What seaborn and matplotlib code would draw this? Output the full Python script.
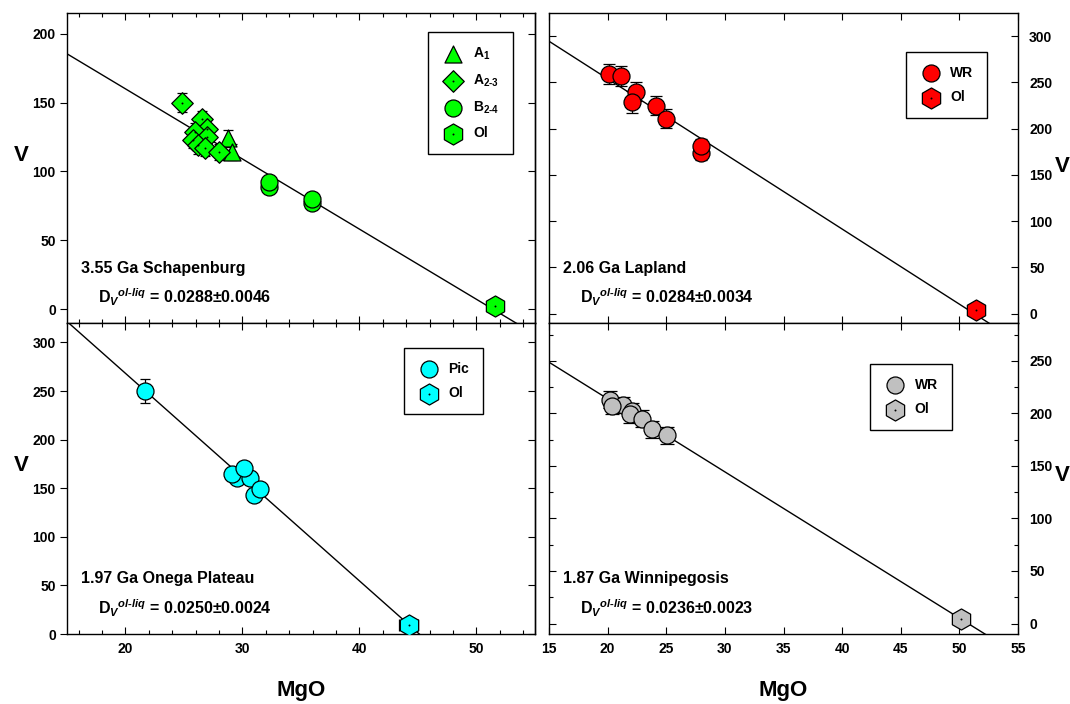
import numpy as np
import pandas as pd
import matplotlib
matplotlib.use("Agg")
import matplotlib.pyplot as plt
import seaborn as sns
from matplotlib.ticker import MultipleLocator

# 3.55 Ga Schapenburg
sch_a1_mgo = [28.8, 29.1]
sch_a1_v = [124, 114]
sch_a1_err = [6, 6]
sch_a23_mgo = [24.8, 26.5, 27.0, 25.9, 25.8, 27.0, 26.2, 26.8, 28.0]
sch_a23_v = [150, 138, 131, 129, 123, 125, 119, 117, 114]
sch_a23_err = [7, 6, 6, 6, 6, 6, 6, 6, 6]
sch_b24_mgo = [32.3, 32.3, 35.9, 35.9]
sch_b24_v = [89, 92, 77, 80]
sch_b24_err = [3, 3, 3, 3]
sch_ol_mgo = [51.6]
sch_ol_v = [2.6]
sch_ol_err = [1]

# 2.06 Ga Lapland
lap_wr_mgo = [20.1, 21.1, 22.4, 22.1, 24.1, 25.0, 28.0, 28.0]
lap_wr_v = [259, 257, 240, 229, 225, 211, 174, 181]
lap_wr_err = [11, 11, 10, 12, 10, 10, 8, 8]
lap_ol_mgo = [51.4]
lap_ol_v = [4.3]
lap_ol_err = [1]

# 1.97 Ga Onega Plateau
one_pic_mgo = [21.7, 29.5, 29.1, 30.6, 30.1, 31.0, 31.5]
one_pic_v = [250, 161, 165, 161, 171, 143, 149]
one_pic_err = [12, 4, 4, 4, 4, 4, 4]
one_ol_mgo = [44.2]
one_ol_v = [9]
one_ol_err = [1]

# 1.87 Ga Winnipegosis
win_wr_mgo = [20.2, 21.3, 20.4, 22.1, 21.9, 22.9, 23.8, 25.1]
win_wr_v = [213, 208, 207, 202, 199, 195, 185, 179]
win_wr_err = [8, 8, 8, 8, 8, 8, 8, 8]
win_ol_mgo = [50.1]
win_ol_v = [4.4]
win_ol_err = [3]

sns.set_style("ticks")
plt.rcParams['font.family'] = ['Liberation Sans', 'DejaVu Sans']
plt.rcParams['font.weight'] = 'bold'
plt.rcParams['axes.labelweight'] = 'bold'
plt.rcParams['text.color'] = 'black'
plt.rcParams['axes.labelcolor'] = 'black'
plt.rcParams['xtick.color'] = 'black'
plt.rcParams['ytick.color'] = 'black'
plt.rcParams['mathtext.fontset'] = 'custom'
plt.rcParams['mathtext.rm'] = 'Liberation Sans:bold'
plt.rcParams['mathtext.it'] = 'Liberation Sans:italic:bold'
plt.rcParams['mathtext.bf'] = 'Liberation Sans:bold'

fig = plt.figure(figsize=(10.7, 7.04), dpi=100)
ax_tl = fig.add_axes([0.0626, 0.5412, 0.4374, 0.4403])
ax_tr = fig.add_axes([0.5131, 0.5412, 0.4383, 0.4403])
ax_bl = fig.add_axes([0.0626, 0.0994, 0.4374, 0.4418])
ax_br = fig.add_axes([0.5131, 0.0994, 0.4383, 0.4418])

SIZES = {'^': 150, 'D': 120, 'o': 150, 'h': 230}


def draw_panel(ax, groups, color, capsize):
    handles, labels = [], []
    all_x, all_y = [], []
    for label, mgo, v, err, marker, dot in groups:
        ax.errorbar(mgo, v, yerr=err, fmt='none', ecolor='black', elinewidth=0.9,
                    capsize=capsize, capthick=0.9, zorder=2)
        sns.scatterplot(x=mgo, y=v, marker=marker, s=SIZES[marker], color=color,
                        edgecolor='black', linewidth=0.9, zorder=3, ax=ax)
        h = ax.collections[-1]
        if dot:
            sns.scatterplot(x=mgo, y=v, marker='o', s=2, color='black',
                            linewidth=0, zorder=4, ax=ax)
            h = (h, ax.collections[-1])
        handles.append(h)
        labels.append(label)
        all_x += list(mgo)
        all_y += list(v)
    df = pd.DataFrame({'MgO': all_x, 'V': all_y})
    ax.set_xlim(15, 55)
    sns.regplot(data=df, x='MgO', y='V', scatter=False, ci=None, truncate=False,
                color='black', line_kws={'linewidth': 1.0, 'zorder': 1}, ax=ax)
    return handles, labels


def add_legend(ax, handles, labels, anchor):
    leg = ax.legend(handles, labels, loc='upper right', bbox_to_anchor=anchor,
                    frameon=True, fancybox=False, framealpha=1, edgecolor='black',
                    fontsize=10, handletextpad=0.6, labelspacing=0.75,
                    borderpad=1.0, borderaxespad=0, handlelength=1.6,
                    scatterpoints=1)
    leg.get_frame().set_linewidth(1.0)


def add_texts(ax, name, dval):
    ax.text(0.030, 0.177, name, transform=ax.transAxes, fontsize=11.5,
            fontweight='bold', ha='left', va='center')
    ax.text(0.066, 0.084, r"D$_{V}$$^{ol\text{-}liq}$ = " + dval, transform=ax.transAxes,
            fontsize=11.5, fontweight='bold', ha='left', va='center')


def style_axes(ax, bottom_labels, right_side):
    for sp in ax.spines.values():
        sp.set_visible(True)
        sp.set_linewidth(1.0)
        sp.set_color('black')
    ax.tick_params(axis='x', which='both', direction='in', top=True, bottom=True,
                   labelbottom=bottom_labels, labelsize=10, pad=6, width=0.8)
    ax.tick_params(axis='x', which='major', length=5)
    ax.tick_params(axis='x', which='minor', length=3)
    ax.set_xlabel('MgO' if bottom_labels else '', fontsize=16, fontweight='bold',
                  va='center')
    ax.xaxis.set_label_coords(0.5, -0.18)
    ax.set_ylabel('V', fontsize=16, fontweight='bold', rotation=0, va='center', ha='center')
    if right_side:
        ax.yaxis.set_label_position('right')
        ax.tick_params(axis='y', which='both', direction='in', left=True, right=True,
                       labelleft=False, labelright=True, labelsize=10, pad=8, width=0.8)
        ax.tick_params(axis='y', which='major', length=5)
        ax.tick_params(axis='y', which='minor', length=3)
    else:
        ax.tick_params(axis='y', which='both', direction='out', left=True, right=False,
                       labelsize=10, pad=3, width=0.8, length=5)
        sec = ax.secondary_yaxis('right')
        sec.set_yticks(ax.get_yticks())
        sec.tick_params(direction='in', labelright=False, length=5, width=0.8)
        sec.spines['right'].set_linewidth(1.0)
    for lab in ax.get_xticklabels() + ax.get_yticklabels():
        lab.set_fontweight('bold')


# top left
h, l = draw_panel(ax_tl, [
    (r"A$_{1}$", sch_a1_mgo, sch_a1_v, sch_a1_err, '^', False),
    (r"A$_{2\text{-}3}$", sch_a23_mgo, sch_a23_v, sch_a23_err, 'D', True),
    (r"B$_{2\text{-}4}$", sch_b24_mgo, sch_b24_v, sch_b24_err, 'o', False),
    ("Ol", sch_ol_mgo, sch_ol_v, sch_ol_err, 'h', True),
], '#00ff00', 3.5)
ax_tl.set_ylim(-10, 215)
ax_tl.set_yticks([0, 50, 100, 150, 200])
ax_tl.xaxis.set_major_locator(MultipleLocator(10))
ax_tl.xaxis.set_minor_locator(MultipleLocator(2))
add_legend(ax_tl, h, l, (0.953, 0.939))
add_texts(ax_tl, "3.55 Ga Schapenburg", "0.0288\u00b10.0046")
style_axes(ax_tl, False, False)
ax_tl.yaxis.set_label_coords(-0.098, 0.54)

# top right
h, l = draw_panel(ax_tr, [
    ("WR", lap_wr_mgo, lap_wr_v, lap_wr_err, 'o', False),
    ("Ol", lap_ol_mgo, lap_ol_v, lap_ol_err, 'h', True),
], '#ff0000', 4)
ax_tr.set_ylim(-10, 325)
ax_tr.set_yticks([0, 50, 100, 150, 200, 250, 300])
ax_tr.xaxis.set_major_locator(MultipleLocator(5))
add_legend(ax_tr, h, l, (0.934, 0.874))
add_texts(ax_tr, "2.06 Ga Lapland", "0.0284\u00b10.0034")
style_axes(ax_tr, False, True)
ax_tr.yaxis.set_label_coords(1.095, 0.54)

# bottom left
h, l = draw_panel(ax_bl, [
    ("Pic", one_pic_mgo, one_pic_v, one_pic_err, 'o', False),
    ("Ol", one_ol_mgo, one_ol_v, one_ol_err, 'h', True),
], '#00ffff', 3.5)
ax_bl.errorbar(one_ol_mgo, one_ol_v, xerr=[0.8], fmt='none', ecolor='black',
               elinewidth=0.9, capsize=4, capthick=0.9, zorder=2)
ax_bl.set_ylim(0, 320)
ax_bl.set_yticks([0, 50, 100, 150, 200, 250, 300])
ax_bl.xaxis.set_major_locator(MultipleLocator(10))
ax_bl.xaxis.set_minor_locator(MultipleLocator(2))
add_legend(ax_bl, h, l, (0.889, 0.92))
add_texts(ax_bl, "1.97 Ga Onega Plateau", "0.0250\u00b10.0024")
style_axes(ax_bl, True, False)
ax_bl.yaxis.set_label_coords(-0.098, 0.543)

# bottom right
h, l = draw_panel(ax_br, [
    ("WR", win_wr_mgo, win_wr_v, win_wr_err, 'o', False),
    ("Ol", win_ol_mgo, win_ol_v, win_ol_err, 'h', True),
], '#c0c0c0', 5)
ax_br.set_ylim(-10, 286)
ax_br.set_yticks([0, 50, 100, 150, 200, 250])
ax_br.yaxis.set_minor_locator(MultipleLocator(25))
ax_br.xaxis.set_major_locator(MultipleLocator(5))
add_legend(ax_br, h, l, (0.859, 0.868))
add_texts(ax_br, "1.87 Ga Winnipegosis", "0.0236\u00b10.0023")
style_axes(ax_br, True, True)
ax_br.yaxis.set_label_coords(1.095, 0.543)

fig.savefig("out.png", dpi=100)
